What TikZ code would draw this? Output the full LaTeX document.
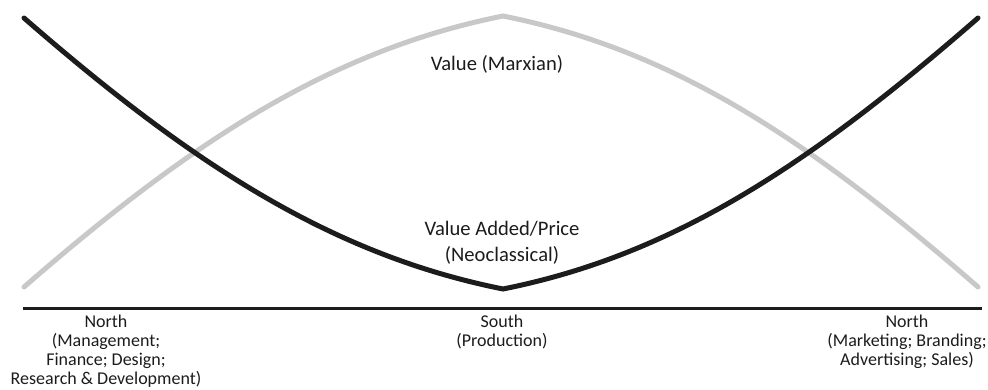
\documentclass[tikz,border=0pt]{standalone}
\usepackage{fontspec}
\setmainfont{Carlito}
\usepackage{tikz}
\definecolor{light_grey}{RGB}{200,200,200}
\definecolor{dark_line}{RGB}{28,28,28}

\begin{document}
\begin{tikzpicture}[x=1pt,y=-1pt]
        \tikzstyle{value_curve} = [line width=5pt, draw=light_grey, line cap=round]
        \tikzstyle{price_curve} = [line width=5pt, draw=dark_line, line cap=round]
        \tikzstyle{axis_line} = [line width=3pt, draw=dark_line]
        \tikzstyle{region} = [align=center, inner sep=0pt, text=dark_line, font=\fontsize{18}{18.8}\selectfont]
        \tikzstyle{curve_label} = [align=center, inner sep=0pt, text=dark_line, font=\fontsize{20.6}{26}\selectfont]
        \useasboundingbox (0,0) rectangle (988,390);

        \coordinate (value_start) at (24,287);
        \coordinate (value_top) at (503,16);
        \coordinate (value_end) at (978,287);
        \coordinate (price_start) at (24,18);
        \coordinate (price_bottom) at (503,289);
        \coordinate (price_end) at (978,18);
        \coordinate (axis_left) at (23,308);
        \coordinate (axis_right) at (982,308);

        \draw[value_curve] (value_start) .. controls (194,139) and (333,50) .. (value_top) .. controls (673,50) and (808,139) .. (value_end);
        \draw[price_curve] (price_start) .. controls (194,166) and (333,255) .. (price_bottom) .. controls (673,255) and (808,166) .. (price_end);
        \draw[axis_line] (axis_left) -- (axis_right);

        \node (marxian) [curve_label] at (497,64) {Value (Marxian)};
        \node (neoclassical) [curve_label, anchor=north] at (502,221) {Value Added/Price\\(Neoclassical)};

        \node (north_left) [region, anchor=north] at (106,315) {North\\(Management;\\Finance; Design;\\Research \& Development)};
        \node (south) [region, anchor=north] at (502,315) {South\\(Production)};
        \node (north_right) [region, anchor=north] at (907,315) {North\\(Marketing; Branding;\\Advertising; Sales)};
\end{tikzpicture}
\end{document}
